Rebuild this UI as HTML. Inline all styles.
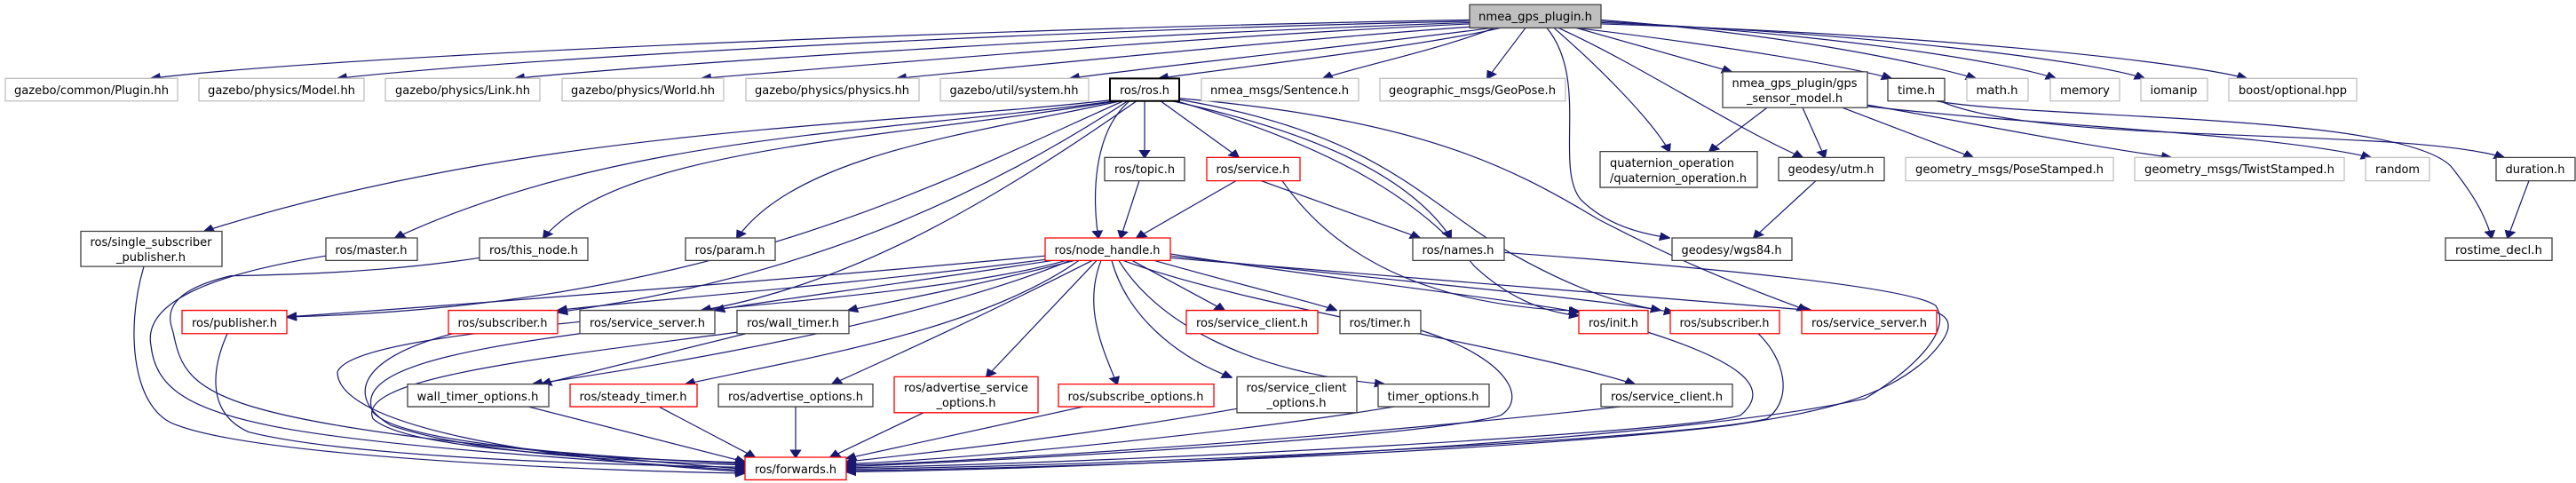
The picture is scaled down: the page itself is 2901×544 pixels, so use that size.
<!DOCTYPE html>
<html><head><meta charset="utf-8">
<style>
html,body{margin:0;padding:0;background:#fff;overflow:hidden;}
svg{display:block;}
text{font-family:"DejaVu Sans Condensed","Liberation Sans",sans-serif;font-size:13px;fill:#000;}
.e{fill:none;stroke:#191970;stroke-width:1.2;marker-end:url(#a);vector-effect:non-scaling-stroke;}
.g{fill:#fff;stroke:#bfbfbf;stroke-width:1.3;vector-effect:non-scaling-stroke;}
.k{fill:#fff;stroke:#404040;stroke-width:1.3;vector-effect:non-scaling-stroke;}
.r{fill:#fff;stroke:#ff0000;stroke-width:1.3;vector-effect:non-scaling-stroke;}
</style></head><body>
<svg width="2901" height="544" viewBox="0 0 2901 544" xmlns="http://www.w3.org/2000/svg">
<defs><marker id="a" markerUnits="userSpaceOnUse" markerWidth="12" markerHeight="14" refX="11" refY="7" orient="auto"><path d="M0,1 L12,7 L0,13 z" fill="#191970" stroke="#191970"/></marker></defs>
<g transform="scale(1,0.7485)">
<path class="e" d="M1655,30 C1200,40 400,80 170,118"/>
<path class="e" d="M1655,32 C1200,45 600,85 380,118"/>
<path class="e" d="M1655,34 C1300,50 800,90 580,118"/>
<path class="e" d="M1655,36 C1350,55 1000,95 790,118"/>
<path class="e" d="M1660,40 C1450,60 1150,100 1010,118"/>
<path class="e" d="M1680,42 C1550,65 1300,100 1205,118"/>
<path class="e" d="M1690,42 C1600,70 1400,100 1305,118"/>
<path class="e" d="M1683,42 C1620,75 1530,100 1490,118"/>
<path class="e" d="M1718,42 L1675,118"/>
<path class="e" d="M1750,42 C1800,100 1860,180 1880,228"/>
<path class="e" d="M1742,42 C1790,120 1750,250 1780,300 C1810,340 1850,352 1880,358"/>
<path class="e" d="M1775,42 L1950,108"/>
<path class="e" d="M1755,42 C1850,100 1950,190 2030,237"/>
<path class="e" d="M1775,42 C1950,70 2080,100 2130,118"/>
<path class="e" d="M1803,30 C2000,50 2150,90 2225,118"/>
<path class="e" d="M1803,32 C2050,50 2250,90 2315,118"/>
<path class="e" d="M1803,34 C2100,50 2350,90 2415,118"/>
<path class="e" d="M1803,36 C2150,50 2450,90 2530,118"/>

<path class="e" d="M1289,152 L1289,237"/>
<path class="e" d="M1307,152 L1395,237"/>
<path class="e" d="M1272,152 C1230,200 1230,300 1237,358"/>
<path class="e" d="M1320,152 C1450,190 1580,250 1634,358"/>
<path class="e" d="M1325,152 C1500,220 1600,300 1660,400 C1700,450 1740,470 1778,475"/>
<path class="e" d="M1328,150 C1550,200 1600,300 1700,380 C1780,440 1830,460 1885,470"/>
<path class="e" d="M1328,148 C1600,180 1700,250 1800,330 C1900,400 1980,440 2035,467"/>
<path class="e" d="M1255,150 C1000,190 600,190 230,348"/>
<path class="e" d="M1255,152 C1000,200 700,200 445,358"/>
<path class="e" d="M1258,152 C1000,210 700,220 612,358"/>
<path class="e" d="M1262,152 C1100,200 900,230 830,358"/>
<path class="e" d="M1265,152 C1050,280 800,460 323,477"/>
<path class="e" d="M1270,152 C1100,300 900,420 628,470"/>
<path class="e" d="M1280,152 C1100,320 950,430 790,467"/>

<path class="e" d="M1392,272 L1280,358"/>
<path class="e" d="M1420,272 L1599,358"/>
<path class="e" d="M1444,272 C1500,380 1600,460 1778,468"/>
<path class="e" d="M1283,272 L1262,358"/>

<path class="e" d="M1177,385 C900,420 500,460 323,477"/>
<path class="e" d="M1180,390 C950,430 700,455 628,467"/>
<path class="e" d="M1185,392 C1000,430 850,455 805,467"/>
<path class="e" d="M1210,392 C1100,430 1000,455 955,467"/>
<path class="e" d="M1205,392 C1100,450 900,520 600,578"/>
<path class="e" d="M1215,392 C1100,500 900,540 772,578"/>
<path class="e" d="M1230,392 C1100,480 1000,540 937,578"/>
<path class="e" d="M1235,392 L1111,567"/>
<path class="e" d="M1240,392 C1220,460 1240,520 1258,578"/>
<path class="e" d="M1252,392 C1270,480 1330,540 1387,568"/>
<path class="e" d="M1275,392 L1379,467"/>
<path class="e" d="M1300,392 C1400,430 1480,455 1505,467"/>
<path class="e" d="M1260,392 C1300,480 1400,560 1559,578"/>
<path class="e" d="M1265,392 C1400,460 1700,520 1841,578"/>
<path class="e" d="M1318,382 C1500,420 1700,450 1778,470"/>
<path class="e" d="M1318,385 C1550,420 1800,450 1870,467"/>
<path class="e" d="M1318,388 C1600,420 1900,450 2040,467"/>
<path class="e" d="M1200,392 C1000,470 400,480 380,560 C380,640 600,690 839,710"/>

<path class="e" d="M162,401 C140,500 150,620 200,640 C300,690 700,710 839,712"/>
<path class="e" d="M367,385 C250,410 160,450 170,520 C180,640 300,660 839,708"/>
<path class="e" d="M540,388 C480,400 400,412 260,415 C180,440 190,480 195,500 C210,600 230,640 839,706"/>
<path class="e" d="M256,502 C240,550 230,620 280,650 C400,690 700,700 839,703"/>
<path class="e" d="M510,502 C400,540 390,600 440,640 C550,690 750,695 839,700"/>
<path class="e" d="M653,502 C500,530 400,560 420,620 C450,670 700,690 839,698"/>
<path class="e" d="M830,500 C600,540 400,570 420,630 C460,680 700,690 839,696"/>
<path class="e" d="M840,502 L610,578"/>
<path class="e" d="M595,612 L839,695"/>
<path class="e" d="M742,612 L850,688"/>
<path class="e" d="M896,612 L896,688"/>
<path class="e" d="M1040,621 L935,688"/>
<path class="e" d="M1220,612 L953,690"/>
<path class="e" d="M1393,615 C1200,660 1050,680 953,695"/>
<path class="e" d="M1570,612 C1400,650 1100,690 953,698"/>
<path class="e" d="M1825,612 C1500,660 1100,695 953,700"/>
<path class="e" d="M1600,497 C1700,540 1720,600 1690,625 C1600,660 1100,695 953,702"/>
<path class="e" d="M1856,500 C1950,540 2000,580 1960,625 C1900,650 1300,695 953,704"/>
<path class="e" d="M1980,502 C2010,540 2020,600 1990,630 C1900,660 1300,700 953,706"/>
<path class="e" d="M2181,470 C2200,480 2200,500 2170,540 C2120,600 2050,620 1950,640 C1700,680 1200,705 953,708"/>
<path class="e" d="M1694,380 C1900,400 2150,430 2180,460 C2200,500 2150,560 2100,600 C1900,660 1300,705 953,710"/>

<path class="e" d="M1990,162 L1925,228"/>
<path class="e" d="M2030,162 L2055,237"/>
<path class="e" d="M2075,162 L2222,237"/>
<path class="e" d="M2103,158 C2200,180 2350,220 2445,237"/>
<path class="e" d="M2103,160 C2300,190 2550,200 2670,237"/>
<path class="e" d="M2185,152 C2300,220 2700,190 2820,237"/>
<path class="e" d="M2180,152 C2300,180 2700,170 2760,250 C2790,300 2800,330 2806,358"/>
<path class="e" d="M2848,272 L2824,358"/>
<path class="e" d="M2045,272 L1975,358"/>

<rect x="1655" y="7" width="148" height="35" fill="#bfbfbf" stroke="#404040" stroke-width="1.3" vector-effect="non-scaling-stroke"/>
<rect class="g" x="6" y="118" width="194" height="34"/>
<rect class="g" x="224" y="118" width="186" height="34"/>
<rect class="g" x="434" y="118" width="174" height="34"/>
<rect class="g" x="633" y="118" width="182" height="34"/>
<rect class="g" x="840" y="118" width="195" height="34"/>
<rect class="g" x="1059" y="118" width="167" height="34"/>
<rect x="1250" y="118" width="78" height="34" fill="#fff" stroke="#000" stroke-width="2" vector-effect="non-scaling-stroke"/>
<rect class="g" x="1353" y="118" width="177" height="34"/>
<rect class="g" x="1554" y="118" width="209" height="34"/>
<rect class="k" x="1940" y="108" width="163" height="54"/>
<rect class="k" x="2126" y="118" width="64" height="34"/>
<rect class="g" x="2215" y="118" width="69" height="34"/>
<rect class="g" x="2309" y="118" width="78" height="34"/>
<rect class="g" x="2411" y="118" width="75" height="34"/>
<rect class="g" x="2510" y="118" width="144" height="34"/>
<rect class="k" x="1244" y="237" width="90" height="35"/>
<rect class="r" x="1359" y="237" width="105" height="35"/>
<rect class="k" x="1802" y="228" width="177" height="54"/>
<rect class="k" x="2003" y="237" width="119" height="35"/>
<rect class="g" x="2146" y="237" width="234" height="35"/>
<rect class="g" x="2404" y="237" width="236" height="35"/>
<rect class="g" x="2664" y="237" width="72" height="35"/>
<rect class="k" x="2811" y="237" width="89" height="35"/>
<rect class="k" x="91" y="348" width="159" height="53"/>
<rect class="k" x="367" y="358" width="103" height="34"/>
<rect class="k" x="540" y="358" width="122" height="34"/>
<rect class="k" x="772" y="358" width="101" height="34"/>
<rect class="r" x="1177" y="358" width="141" height="34"/>
<rect class="k" x="1591" y="358" width="103" height="34"/>
<rect class="k" x="1883" y="358" width="135" height="34"/>
<rect class="k" x="2754" y="358" width="120" height="34"/>
<rect class="r" x="205" y="467" width="118" height="35"/>
<rect class="r" x="505" y="467" width="123" height="35"/>
<rect class="k" x="653" y="467" width="152" height="35"/>
<rect class="k" x="830" y="467" width="126" height="35"/>
<rect class="r" x="1336" y="467" width="148" height="35"/>
<rect class="k" x="1509" y="467" width="91" height="35"/>
<rect class="r" x="1778" y="467" width="78" height="35"/>
<rect class="r" x="1881" y="467" width="123" height="35"/>
<rect class="r" x="2029" y="467" width="152" height="35"/>
<rect class="k" x="459" y="578" width="159" height="34"/>
<rect class="r" x="642" y="578" width="143" height="34"/>
<rect class="k" x="809" y="578" width="174" height="34"/>
<rect class="r" x="1007" y="567" width="162" height="54"/>
<rect class="r" x="1192" y="578" width="175" height="34"/>
<rect class="k" x="1393" y="567" width="135" height="54"/>
<rect class="k" x="1552" y="578" width="125" height="34"/>
<rect class="k" x="1803" y="578" width="148" height="34"/>
<rect class="r" x="839" y="688" width="114" height="34"/>
</g>

<g>
<text x="1729" y="23" text-anchor="middle" textLength="128" lengthAdjust="spacingAndGlyphs">nmea_gps_plugin.h</text>
<text x="103" y="106" text-anchor="middle" textLength="174" lengthAdjust="spacingAndGlyphs">gazebo/common/Plugin.hh</text>
<text x="317" y="106" text-anchor="middle" textLength="166" lengthAdjust="spacingAndGlyphs">gazebo/physics/Model.hh</text>
<text x="521" y="106" text-anchor="middle" textLength="152" lengthAdjust="spacingAndGlyphs">gazebo/physics/Link.hh</text>
<text x="724" y="106" text-anchor="middle" textLength="162" lengthAdjust="spacingAndGlyphs">gazebo/physics/World.hh</text>
<text x="937" y="106" text-anchor="middle" textLength="174" lengthAdjust="spacingAndGlyphs">gazebo/physics/physics.hh</text>
<text x="1142" y="106" text-anchor="middle" textLength="145" lengthAdjust="spacingAndGlyphs">gazebo/util/system.hh</text>
<text x="1289" y="106" text-anchor="middle" textLength="56" lengthAdjust="spacingAndGlyphs">ros/ros.h</text>
<text x="1441" y="106" text-anchor="middle" textLength="156" lengthAdjust="spacingAndGlyphs">nmea_msgs/Sentence.h</text>
<text x="1658" y="106" text-anchor="middle" textLength="188" lengthAdjust="spacingAndGlyphs">geographic_msgs/GeoPose.h</text>
<text x="2021" y="98" text-anchor="middle" textLength="141" lengthAdjust="spacingAndGlyphs">nmea_gps_plugin/gps</text><text x="2021" y="115" text-anchor="middle" textLength="108" lengthAdjust="spacingAndGlyphs">_sensor_model.h</text>
<text x="2158" y="106" text-anchor="middle" textLength="42" lengthAdjust="spacingAndGlyphs">time.h</text>
<text x="2249" y="106" text-anchor="middle" textLength="47" lengthAdjust="spacingAndGlyphs">math.h</text>
<text x="2348" y="106" text-anchor="middle" textLength="56" lengthAdjust="spacingAndGlyphs">memory</text>
<text x="2448" y="106" text-anchor="middle" textLength="53" lengthAdjust="spacingAndGlyphs">iomanip</text>
<text x="2582" y="106" text-anchor="middle" textLength="122" lengthAdjust="spacingAndGlyphs">boost/optional.hpp</text>

<text x="1289" y="195" text-anchor="middle" textLength="68" lengthAdjust="spacingAndGlyphs">ros/topic.h</text>
<text x="1411" y="195" text-anchor="middle" textLength="83" lengthAdjust="spacingAndGlyphs">ros/service.h</text>
<text x="1813" y="188" textLength="140" lengthAdjust="spacingAndGlyphs">quaternion_operation</text><text x="1813" y="205" textLength="154" lengthAdjust="spacingAndGlyphs">/quaternion_operation.h</text>
<text x="2062" y="195" text-anchor="middle" textLength="97" lengthAdjust="spacingAndGlyphs">geodesy/utm.h</text>
<text x="2263" y="195" text-anchor="middle" textLength="212" lengthAdjust="spacingAndGlyphs">geometry_msgs/PoseStamped.h</text>
<text x="2522" y="195" text-anchor="middle" textLength="214" lengthAdjust="spacingAndGlyphs">geometry_msgs/TwistStamped.h</text>
<text x="2700" y="195" text-anchor="middle" textLength="50" lengthAdjust="spacingAndGlyphs">random</text>
<text x="2855" y="195" text-anchor="middle" textLength="67" lengthAdjust="spacingAndGlyphs">duration.h</text>

<text x="170" y="277" text-anchor="middle" textLength="137" lengthAdjust="spacingAndGlyphs">ros/single_subscriber</text><text x="170" y="294" text-anchor="middle" textLength="78" lengthAdjust="spacingAndGlyphs">_publisher.h</text>
<text x="418" y="286" text-anchor="middle" textLength="81" lengthAdjust="spacingAndGlyphs">ros/master.h</text>
<text x="601" y="286" text-anchor="middle" textLength="100" lengthAdjust="spacingAndGlyphs">ros/this_node.h</text>
<text x="822" y="286" text-anchor="middle" textLength="79" lengthAdjust="spacingAndGlyphs">ros/param.h</text>
<text x="1247" y="286" text-anchor="middle" textLength="119" lengthAdjust="spacingAndGlyphs">ros/node_handle.h</text>
<text x="1642" y="286" text-anchor="middle" textLength="81" lengthAdjust="spacingAndGlyphs">ros/names.h</text>
<text x="1950" y="286" text-anchor="middle" textLength="113" lengthAdjust="spacingAndGlyphs">geodesy/wgs84.h</text>
<text x="2814" y="286" text-anchor="middle" textLength="98" lengthAdjust="spacingAndGlyphs">rostime_decl.h</text>

<text x="264" y="368" text-anchor="middle" textLength="96" lengthAdjust="spacingAndGlyphs">ros/publisher.h</text>
<text x="566" y="368" text-anchor="middle" textLength="101" lengthAdjust="spacingAndGlyphs">ros/subscriber.h</text>
<text x="729" y="368" text-anchor="middle" textLength="130" lengthAdjust="spacingAndGlyphs">ros/service_server.h</text>
<text x="893" y="368" text-anchor="middle" textLength="104" lengthAdjust="spacingAndGlyphs">ros/wall_timer.h</text>
<text x="1410" y="368" text-anchor="middle" textLength="126" lengthAdjust="spacingAndGlyphs">ros/service_client.h</text>
<text x="1554" y="368" text-anchor="middle" textLength="69" lengthAdjust="spacingAndGlyphs">ros/timer.h</text>
<text x="1817" y="368" text-anchor="middle" textLength="56" lengthAdjust="spacingAndGlyphs">ros/init.h</text>
<text x="1942" y="368" text-anchor="middle" textLength="101" lengthAdjust="spacingAndGlyphs">ros/subscriber.h</text>
<text x="2105" y="368" text-anchor="middle" textLength="130" lengthAdjust="spacingAndGlyphs">ros/service_server.h</text>

<text x="538" y="451" text-anchor="middle" textLength="137" lengthAdjust="spacingAndGlyphs">wall_timer_options.h</text>
<text x="713" y="451" text-anchor="middle" textLength="121" lengthAdjust="spacingAndGlyphs">ros/steady_timer.h</text>
<text x="896" y="451" text-anchor="middle" textLength="152" lengthAdjust="spacingAndGlyphs">ros/advertise_options.h</text>
<text x="1088" y="441" text-anchor="middle" textLength="140" lengthAdjust="spacingAndGlyphs">ros/advertise_service</text><text x="1088" y="458" text-anchor="middle" textLength="67" lengthAdjust="spacingAndGlyphs">_options.h</text>
<text x="1279" y="451" text-anchor="middle" textLength="153" lengthAdjust="spacingAndGlyphs">ros/subscribe_options.h</text>
<text x="1460" y="441" text-anchor="middle" textLength="113" lengthAdjust="spacingAndGlyphs">ros/service_client</text><text x="1460" y="458" text-anchor="middle" textLength="67" lengthAdjust="spacingAndGlyphs">_options.h</text>
<text x="1614" y="451" text-anchor="middle" textLength="103" lengthAdjust="spacingAndGlyphs">timer_options.h</text>
<text x="1877" y="451" text-anchor="middle" textLength="126" lengthAdjust="spacingAndGlyphs">ros/service_client.h</text>

<text x="896" y="533" text-anchor="middle" textLength="92" lengthAdjust="spacingAndGlyphs">ros/forwards.h</text>
</g>
</svg>
</body></html>
